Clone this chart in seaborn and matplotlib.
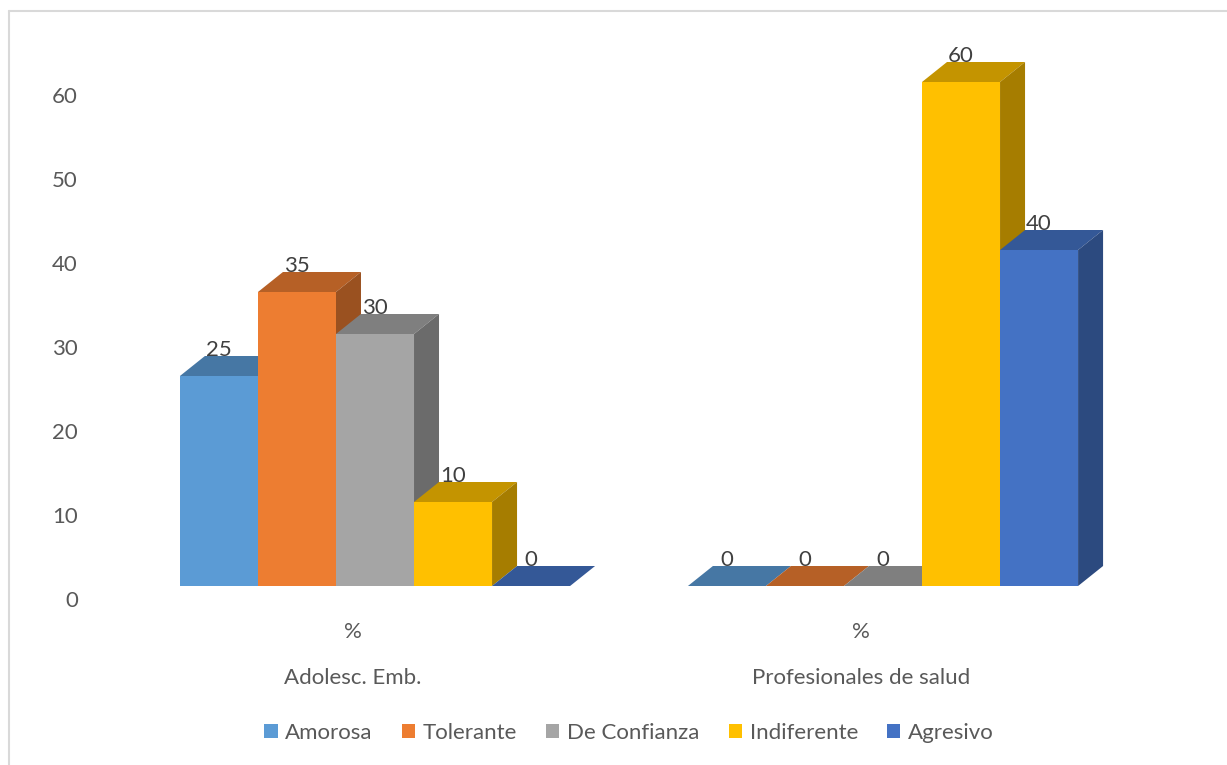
import numpy as np
import pandas as pd
import seaborn as sns
import matplotlib
matplotlib.use("Agg")
import matplotlib.pyplot as plt
from matplotlib.patches import Polygon, Patch
from matplotlib.lines import Line2D
from matplotlib import transforms as mtransforms
from matplotlib.colors import to_rgb

# ---- data -------------------------------------------------------------
grupos = ["Adolesc. Emb.", "Profesionales de salud"]
subcat = ["%", "%"]
actitudes = ["Amorosa", "Tolerante", "De Confianza", "Indiferente", "Agresivo"]
adolescentes = [25, 35, 30, 10, 0]
profesionales = [0, 0, 0, 60, 40]
yticks = [0, 10, 20, 30, 40, 50, 60]
colores = ["#5B9BD5", "#ED7D31", "#A5A5A5", "#FFC000", "#4472C4"]

df = pd.DataFrame({
    "grupo": np.repeat(grupos, len(actitudes)),
    "actitud": actitudes * len(grupos),
    "valor": adolescentes + profesionales,
})

# ---- figure -----------------------------------------------------------
W, H, DPI = 1227, 765, 100
sns.set_theme(style="white")
plt.rcParams["font.family"] = ["Lato", "DejaVu Sans"]
FS = 16
TXT = "#595959"

fig = plt.figure(figsize=(W / DPI, H / DPI), dpi=DPI)
fig.patch.set_facecolor("white")

# plot area in pixels
px_left, px_right, px_top, px_bottom = 100, 1180, 40, 586
ax = fig.add_axes([px_left / W, 1 - px_bottom / H,
                   (px_right - px_left) / W, (px_bottom - px_top) / H])

sns.barplot(data=df, x="grupo", y="valor", hue="actitud",
            hue_order=actitudes, order=grupos, palette=colores,
            width=0.768, saturation=1, linewidth=0, legend=False, ax=ax)

cat_px = 508.0           # pixels between category centres
px_per_unit = 8.4        # pixels per value unit
x_lo = -(375 - px_left) / cat_px
x_hi = 1 + (px_right - 883) / cat_px
ax.set_xlim(x_lo, x_hi)
ax.set_ylim(0, (px_bottom - px_top) / px_per_unit)
for s in ax.spines.values():
    s.set_visible(False)
ax.set_xticks([])
ax.set_yticks([])
ax.set_xlabel("")
ax.set_ylabel("")
ax.patch.set_alpha(0)

# depth of the pseudo-3D boxes, in data units
DX = 25 / cat_px
DY = 20 / px_per_unit


def shade(c, f):
    r, g, b = to_rgb(c)
    return (r * f, g * f, b * f)


bars = sorted(ax.patches, key=lambda p: p.get_x())
for i, p in enumerate(bars):
    x, w, h = p.get_x(), p.get_width(), p.get_height()
    fc = p.get_facecolor()
    base = 2 + 3 * i
    top = Polygon([(x, h), (x + DX, h + DY), (x + w + DX, h + DY), (x + w, h)],
                  closed=True, facecolor=shade(fc, 0.77), edgecolor="none",
                  zorder=base, clip_on=False)
    ax.add_patch(top)
    if h > 0:
        side = Polygon([(x + w, 0), (x + w + DX, DY), (x + w + DX, h + DY), (x + w, h)],
                       closed=True, facecolor=shade(fc, 0.65), edgecolor="none",
                       zorder=base, clip_on=False)
        ax.add_patch(side)
    p.set_zorder(base + 1)
    ax.annotate(f"{h:g}", xy=(x + w / 2, h), xytext=(0, 20),
                textcoords="offset pixels", ha="center", va="baseline",
                fontsize=FS, color="#404040", zorder=100,
                annotation_clip=False)

# value axis labels (aligned with the back wall)
ytrans = mtransforms.offset_copy(ax.get_yaxis_transform(), fig=fig,
                                 x=-22, y=-15, units="dots")
for v in yticks:
    ax.text(0, v, f"{v}", transform=ytrans, ha="right", va="center",
            fontsize=FS, color=TXT)

# two-level category labels
for k, (g, s) in enumerate(zip(grupos, subcat)):
    t1 = mtransforms.offset_copy(ax.get_xaxis_transform(), fig=fig,
                                 x=-22, y=-46, units="dots")
    t2 = mtransforms.offset_copy(ax.get_xaxis_transform(), fig=fig,
                                 x=-22, y=-92, units="dots")
    ax.text(k, 0, s, transform=t1, ha="center", va="center",
            fontsize=FS, color=TXT)
    ax.text(k, 0, g, transform=t2, ha="center", va="center",
            fontsize=FS, color=TXT)

# legend
handles = [Patch(facecolor=c, edgecolor="none") for c in colores]
leg = fig.legend(handles, actitudes, loc="center",
                 bbox_to_anchor=(629 / W, 1 - 733 / H), ncol=5, frameon=False,
                 handlelength=0.6, handleheight=0.6, handletextpad=0.35,
                 columnspacing=1.3, fontsize=FS, labelcolor=TXT)

# chart frame
fig.add_artist(Line2D([8.5 / W, 1.0], [1 - 10.5 / H, 1 - 10.5 / H],
                      transform=fig.transFigure, color="#D9D9D9", lw=1.5))
fig.add_artist(Line2D([8.5 / W, 8.5 / W], [0, 1 - 10.5 / H],
                      transform=fig.transFigure, color="#D9D9D9", lw=1.5))

fig.savefig("out.png", dpi=DPI)
